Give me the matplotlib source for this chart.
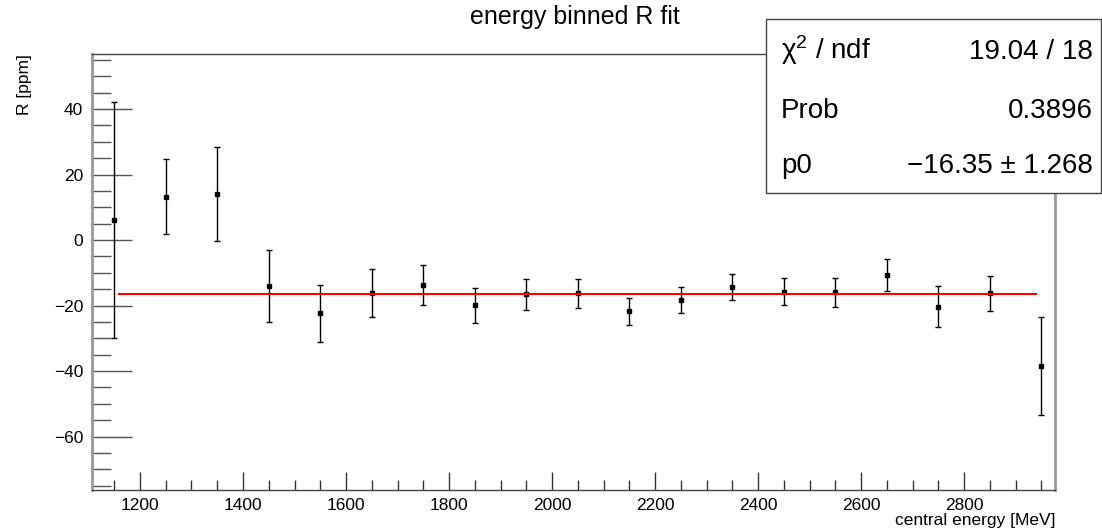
import matplotlib
matplotlib.use("Agg")
import matplotlib.pyplot as plt
from matplotlib.ticker import MultipleLocator
from matplotlib.patches import Rectangle

plt.rcParams["font.family"] = ["Liberation Sans", "DejaVu Sans"]
plt.rcParams["mathtext.fontset"] = "custom"
plt.rcParams["mathtext.rm"] = "Liberation Sans"
plt.rcParams["mathtext.it"] = "Liberation Sans:italic"

energy = [1150, 1250, 1350, 1450, 1550, 1650, 1750, 1850, 1950, 2050,
          2150, 2250, 2350, 2450, 2550, 2650, 2750, 2850, 2950]
R = [6.0, 13.2, 14.1, -13.9, -22.3, -16.2, -13.7, -19.9, -16.5, -16.2,
     -21.8, -18.3, -14.3, -15.7, -16.0, -10.7, -20.3, -16.2, -38.4]
R_err = [36.0, 11.4, 14.4, 11.0, 8.7, 7.3, 6.1, 5.4, 4.7, 4.4,
         4.2, 3.9, 3.9, 4.0, 4.3, 4.9, 6.2, 5.3, 14.9]

p0 = -16.35
fit_range = [1160, 2940]
stats_labels = ["\u03c7$^{2}$ / ndf", "Prob", "p0"]
stats_values = ["19.04 / 18", "0.3896", "\u221216.35 \u00b1 1.268"]

fig = plt.figure(figsize=(11.02, 5.32), dpi=100)
ax = fig.add_axes([0.0832, 0.0789, 0.8742, 0.8196])

ax.errorbar(energy, R, yerr=R_err, fmt="s", color="black", ms=3,
            elinewidth=1, capsize=2, capthick=1)
ax.plot(fit_range, [p0, p0], color="red", lw=1.5, zorder=3)

ax.set_xlim(1106.2, 2976.7)
ax.set_ylim(-76.3, 56.8)

ax.xaxis.set_major_locator(MultipleLocator(200))
ax.xaxis.set_minor_locator(MultipleLocator(50))
ax.yaxis.set_major_locator(MultipleLocator(20))
ax.yaxis.set_minor_locator(MultipleLocator(5))
ax.tick_params(axis="x", which="major", direction="in", length=13, width=1,
               color="#333333", labelsize=12.5, pad=6)
ax.tick_params(axis="x", which="minor", direction="in", length=7, width=1,
               color="#333333")
ax.tick_params(axis="y", which="major", direction="in", length=29, width=1,
               color="#555555", labelsize=12.5, pad=6)
ax.tick_params(axis="y", which="minor", direction="in", length=14, width=1,
               color="#555555")
ax.tick_params(top=False, right=False, which="both")

ax.yaxis.set_major_formatter(plt.FuncFormatter(
    lambda v, p: ("%d" % v).replace("-", "\u2212")))

for side in ["left", "right"]:
    ax.spines[side].set_color("#999999")
    ax.spines[side].set_linewidth(2)
for side in ["top", "bottom"]:
    ax.spines[side].set_color("#444444")
    ax.spines[side].set_linewidth(1)

ax.set_xlabel("central energy [MeV]", fontsize=12.5, loc="right", labelpad=0)
ax.set_ylabel("R [ppm]", fontsize=12.5, loc="top", labelpad=16)

fig.text(0.522, 0.968, "energy binned R fit", fontsize=18, ha="center",
         va="center")

# stats box in the top right corner
W, H = 1102.0, 532.0
box = Rectangle((765.7 / W, 1 - 192.7 / H), (1101 - 765.7) / W,
                (192.7 - 19.3) / H, transform=fig.transFigure,
                facecolor="white", edgecolor="#444444", lw=1, zorder=10)
fig.patches.append(box)
baselines = [59.3, 118.3, 173.3]
for lab, val, yb in zip(stats_labels, stats_values, baselines):
    fig.text(781 / W, 1 - yb / H, lab, fontsize=20, ha="left",
             va="baseline", zorder=11)
    fig.text(1093 / W, 1 - yb / H, val, fontsize=20, ha="right",
             va="baseline", zorder=11)

fig.savefig("out.png", dpi=100)
